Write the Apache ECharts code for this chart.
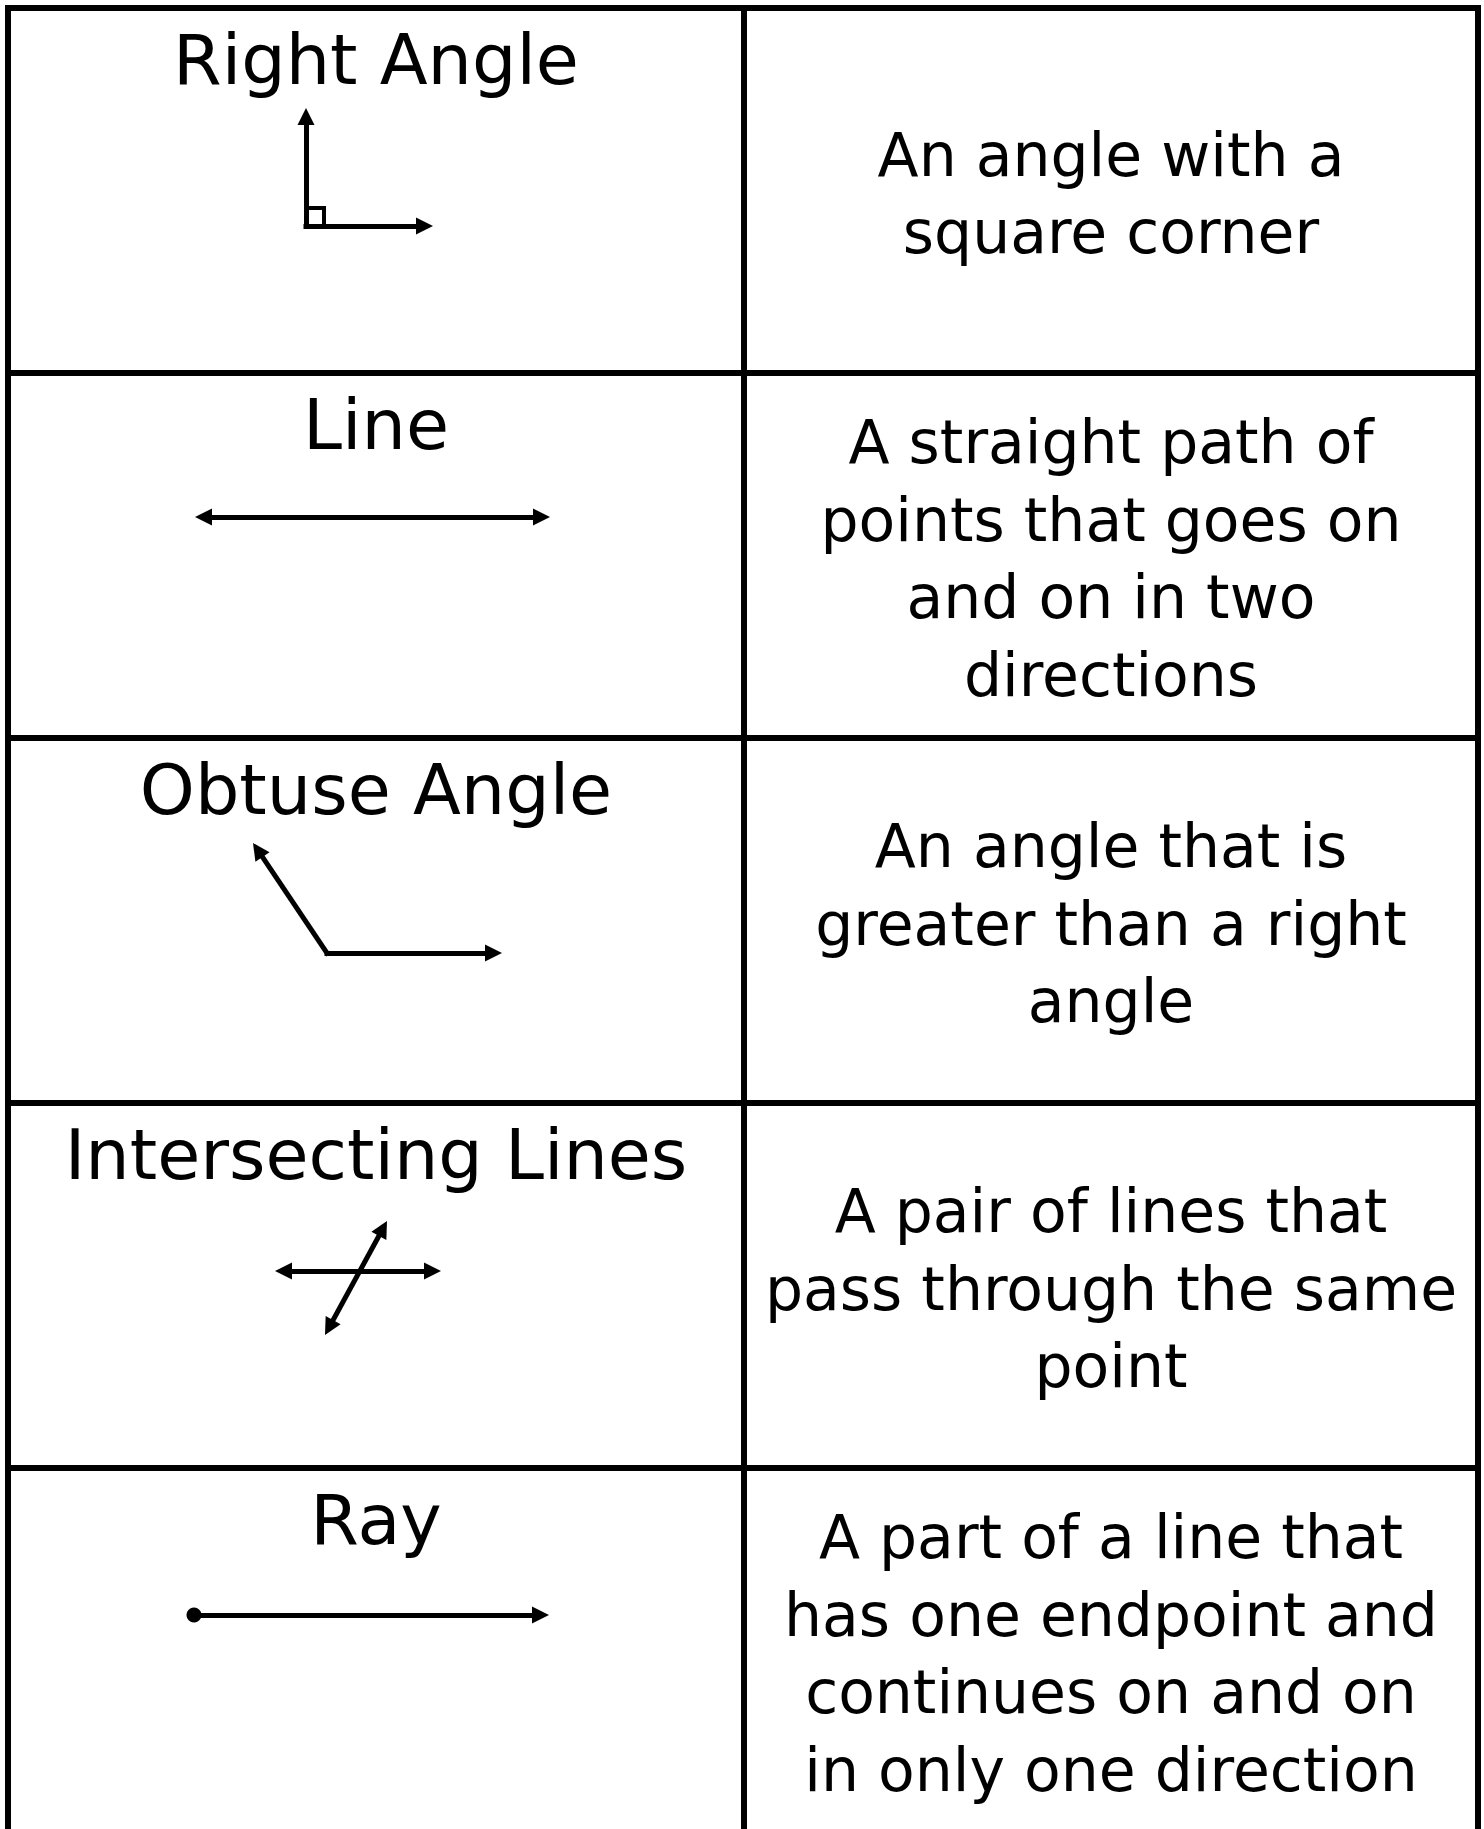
<!DOCTYPE html>
<html>
<head>
<meta charset="utf-8">
<script src="https://cdn.jsdelivr.net/npm/echarts@6/dist/echarts.min.js"></script>
<style>
html,body{margin:0;padding:0;background:#fff;}
#chart{width:1484px;height:1829px;}
</style>
</head>
<body>
<div id="chart"></div>
<script>
// ---------------- DATA ----------------
const terms = ['Right Angle', 'Line', 'Obtuse Angle', 'Intersecting Lines', 'Ray'];
const definitions = [
  ['An angle with a', 'square corner'],
  ['A straight path of', 'points that goes on', 'and on in two', 'directions'],
  ['An angle that is', 'greater than a right', 'angle'],
  ['A pair of lines that', 'pass through the same', 'point'],
  ['A part of a line that', 'has one endpoint and', 'continues on and on', 'in only one direction']
];
// figure sketches, in each row's own frame (x from page left, y from the row's top edge)
const rightAngleVertex = [306, 218];
const rightAngleTips = [[306, 100], [433, 218]];
const lineEnds = [[195, 144], [550, 144]];
const obtuseVertex = [327, 215];
const obtuseTips = [[253, 105], [502, 215]];
const crossHorizontal = [[275, 168], [441, 168]];
const crossSlant = [[387, 118], [325, 232]];
const rayStart = [194, 147];
const rayTip = [549, 147];

// ---------------- LAYOUT ----------------
const W = 1484, H = 1829;
const layout = { left: 8, right: 1478, split: 744, top: 8, rowH: 365, border: 6 };
const arrowSize = 17, figLine = 5, markSide = 18, dotSize = 15;
const titleFont = 70, defFont = 60, defLineH = 77.5, titleCapCenter = 52, defShift = 3;
const FONT = '"DejaVu Sans", sans-serif';

const rowTop = r => layout.top + r * layout.rowH;
const P = (p, r) => [p[0], rowTop(r) + p[1]];
function pull(from, to, d) {
  const dx = to[0] - from[0], dy = to[1] - from[1], len = Math.hypot(dx, dy);
  return [to[0] - dx / len * d, to[1] - dy / len * d];
}

// table rules
const nRows = terms.length;
const tableBottom = rowTop(nRows);
const tableSegs = [];
for (let r = 0; r <= nRows; r++) {
  tableSegs.push({ coords: [[layout.left, rowTop(r)], [layout.right, rowTop(r)]] });
}
[layout.left, layout.split, layout.right].forEach(x => {
  tableSegs.push({ coords: [[x, layout.top], [x, tableBottom]] });
});

// single-headed arrows (base -> tip)
const singleArrows = [];
function addSingle(base, tip) {
  singleArrows.push({ coords: [base, pull(base, tip, arrowSize / 2)] });
}
rightAngleTips.forEach(t => addSingle(P(rightAngleVertex, 0), P(t, 0)));
obtuseTips.forEach(t => addSingle(P(obtuseVertex, 2), P(t, 2)));
addSingle(P(rayStart, 4), P(rayTip, 4));

// double-headed arrows
const doubleArrows = [];
function addDouble(a, b) {
  doubleArrows.push({ coords: [pull(b, a, arrowSize / 2), pull(a, b, arrowSize / 2)] });
}
addDouble(P(lineEnds[0], 1), P(lineEnds[1], 1));
addDouble(P(crossHorizontal[0], 3), P(crossHorizontal[1], 3));
addDouble(P(crossSlant[0], 3), P(crossSlant[1], 3));

// right-angle mark
const v = P(rightAngleVertex, 0);
const markPoly = [{ coords: [[v[0], v[1] - markSide], [v[0] + markSide, v[1] - markSide], [v[0] + markSide, v[1]]] }];

// texts
const graphics = [];
terms.forEach((t, r) => {
  graphics.push({
    type: 'text', x: (layout.left + layout.split) / 2, y: rowTop(r) + titleCapCenter,
    style: { text: t, fontSize: titleFont, fontFamily: FONT, fill: '#000', align: 'center', verticalAlign: 'middle' },
    silent: true, z: 10
  });
});
definitions.forEach((lines, r) => {
  graphics.push({
    type: 'text', x: (layout.split + layout.right) / 2, y: rowTop(r) + layout.rowH / 2 + defShift,
    style: { text: lines.join('\n'), fontSize: defFont, fontFamily: FONT, lineHeight: defLineH, fill: '#000', align: 'center', verticalAlign: 'middle' },
    silent: true, z: 10
  });
});

const chart = echarts.init(document.getElementById('chart'), null, { renderer: 'svg', width: W, height: H });
const lineBase = { type: 'lines', coordinateSystem: 'cartesian2d', silent: true, animation: false };
chart.setOption({
  animation: false,
  backgroundColor: '#fff',
  grid: { left: 0, right: 0, top: 0, bottom: 0, containLabel: false },
  xAxis: { type: 'value', min: 0, max: W, show: false },
  yAxis: { type: 'value', min: 0, max: H, inverse: true, show: false },
  series: [
    Object.assign({}, lineBase, {
      name: 'table', symbol: ['none', 'none'],
      lineStyle: { color: '#000', width: layout.border, cap: 'square', opacity: 1 },
      data: tableSegs
    }),
    Object.assign({}, lineBase, {
      name: 'arrows', symbol: ['none', 'triangle'], symbolSize: arrowSize,
      itemStyle: { color: '#000' },
      lineStyle: { color: '#000', width: figLine, cap: 'square', opacity: 1 },
      data: singleArrows
    }),
    Object.assign({}, lineBase, {
      name: 'double arrows', symbol: ['triangle', 'triangle'], symbolSize: arrowSize,
      itemStyle: { color: '#000' },
      lineStyle: { color: '#000', width: figLine, cap: 'butt', opacity: 1 },
      data: doubleArrows
    }),
    Object.assign({}, lineBase, {
      name: 'right angle mark', polyline: true, symbol: ['none', 'none'],
      lineStyle: { color: '#000', width: 4, opacity: 1, join: 'miter' },
      data: markPoly
    }),
    {
      type: 'scatter', name: 'endpoint', silent: true, animation: false,
      symbol: 'circle', symbolSize: dotSize, itemStyle: { color: '#000', opacity: 1 },
      data: [P(rayStart, 4)]
    }
  ],
  graphic: graphics
});
</script>
</body>
</html>
